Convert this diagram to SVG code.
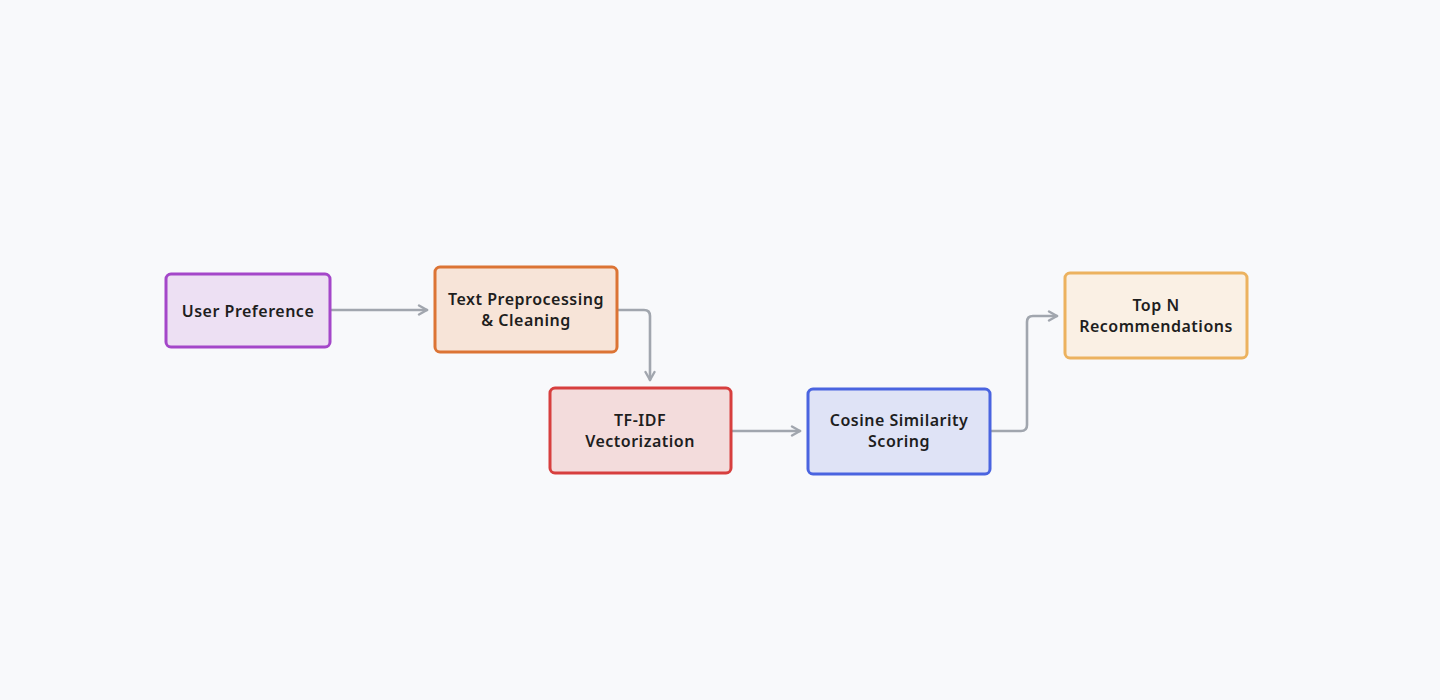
<svg xmlns="http://www.w3.org/2000/svg" width="1440" height="700" viewBox="0 0 1440 700">
<defs>
<marker id="arr" viewBox="0 0 12 12" refX="10" refY="6" markerWidth="12" markerHeight="12" markerUnits="userSpaceOnUse" orient="auto">
<path d="M2,1.5 L10,6 L2,10.5" fill="none" stroke="#a1a6ae" stroke-width="2.4" stroke-linecap="round" stroke-linejoin="round"/>
</marker>
<style>
.box{stroke-width:3}
.lbl{font-family:"Noto Sans","Liberation Sans",sans-serif;font-size:16px;font-weight:600;letter-spacing:0.5px;fill:#1e1e1e;text-anchor:middle;dominant-baseline:central}
.con{fill:none;stroke:#a1a6ae;stroke-width:2.6;stroke-linecap:round;stroke-linejoin:round}
</style>
</defs>
<rect width="1440" height="700" fill="#f8f9fb"/>
<g id="connectors">
<path class="con" d="M330,310 L427,310" marker-end="url(#arr)"/>
<path class="con" d="M617,310 L644,310 Q650,310 650,316 L650,380" marker-end="url(#arr)"/>
<path class="con" d="M731,431 L800,431" marker-end="url(#arr)"/>
<path class="con" d="M990,431 L1021,431 Q1027,431 1027,425 L1027,322 Q1027,316 1033,316 L1057,316" marker-end="url(#arr)"/>
</g>
<g id="node-user">
<rect class="box" x="166" y="274" width="164" height="73" rx="5" fill="#ede0f3" stroke="#a447c9"/>
<text class="lbl" x="248" y="311">User Preference</text>
</g>
<g id="node-preprocess">
<rect class="box" x="435" y="267" width="182" height="85" rx="5" fill="#f7e4d8" stroke="#dc7435"/>
<text class="lbl" x="526" y="299">Text Preprocessing</text>
<text class="lbl" x="526" y="320">&amp; Cleaning</text>
</g>
<g id="node-tfidf">
<rect class="box" x="550" y="388" width="181" height="85" rx="5" fill="#f3dcdc" stroke="#d73f3e"/>
<text class="lbl" x="640" y="420">TF-IDF</text>
<text class="lbl" x="640" y="441">Vectorization</text>
</g>
<g id="node-cosine">
<rect class="box" x="808" y="389" width="182" height="85" rx="5" fill="#dfe3f6" stroke="#4a64e0"/>
<text class="lbl" x="899" y="420">Cosine Similarity</text>
<text class="lbl" x="899" y="441">Scoring</text>
</g>
<g id="node-topn">
<rect class="box" x="1065" y="273" width="182" height="85" rx="5" fill="#faf0e4" stroke="#ecb25f"/>
<text class="lbl" x="1156" y="305">Top N</text>
<text class="lbl" x="1156" y="326">Recommendations</text>
</g>
</svg>
